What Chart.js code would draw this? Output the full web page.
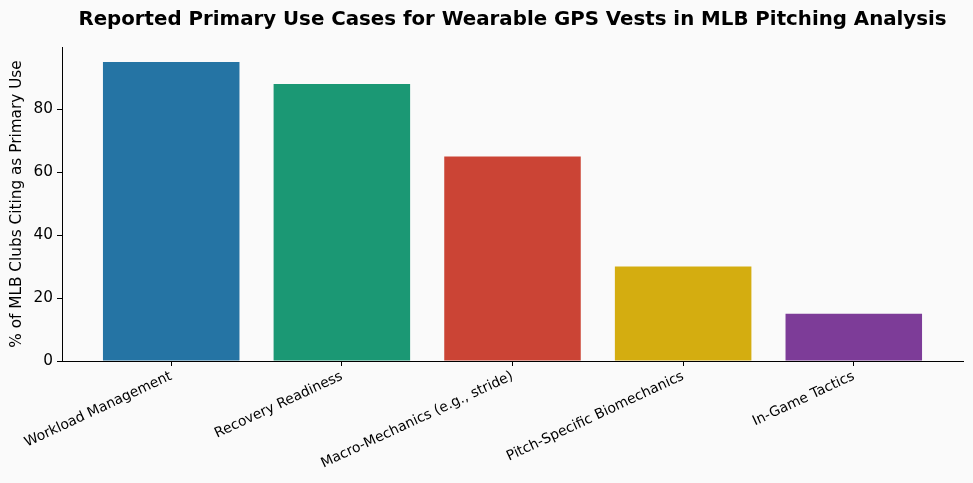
<!DOCTYPE html>
<html>
<head>
<meta charset="utf-8">
<script src="https://cdn.jsdelivr.net/npm/chart.js@4"></script>
<style>
  html, body { margin: 0; padding: 0; background: #fafafa; }
  #wrap { width: 973px; height: 483px; }
</style>
</head>
<body>
<div id="wrap"><canvas id="useChart"></canvas></div>
<script>
const titleText = "Reported Primary Use Cases for Wearable GPS Vests in MLB Pitching Analysis";
const categories = [
  "Workload Management",
  "Recovery Readiness",
  "Macro-Mechanics (e.g., stride)",
  "Pitch-Specific Biomechanics",
  "In-Game Tactics"
];
const percentCiting = [95, 88, 65, 30, 15];
const barColors = ["#2574a4", "#1b9874", "#cb4435", "#d4ad10", "#7d3c98"];
const yTicks = [0, 20, 40, 60, 80];

const font = "'DejaVu Sans', sans-serif";

// title centred over the plot area, like the original
const titlePlugin = {
  id: "plotTitle",
  afterDraw(chart) {
    const { ctx, chartArea } = chart;
    ctx.save();
    ctx.font = "bold 19.8px " + font;
    ctx.fillStyle = "#000";
    ctx.textAlign = "center";
    ctx.textBaseline = "middle";
    ctx.fillText(titleText, (chartArea.left + chartArea.right) / 2, 20);
    ctx.restore();
  }
};

const ctx = document.getElementById("useChart").getContext("2d");
new Chart(ctx, {
  type: "bar",
  data: {
    datasets: [{
      data: percentCiting.map((v, i) => ({ x: i, y: v })),
      backgroundColor: barColors,
      borderWidth: 0,
      barPercentage: 0.8,
      categoryPercentage: 1.0
    }]
  },
  options: {
    responsive: true,
    maintainAspectRatio: false,
    animation: false,
    layout: { padding: { top: 47, right: 10, left: 0, bottom: 0 } },
    plugins: {
      legend: { display: false },
      tooltip: { enabled: false }
    },
    scales: {
      x: {
        type: "linear",
        offset: false,
        min: -0.64,
        max: 4.64,
        afterBuildTicks: (scale) => {
          scale.ticks = categories.map((_, i) => ({ value: i }));
        },
        afterFit: (scale) => { scale.height = 122; },
        grid: { offset: false, drawOnChartArea: false, color: "#000", tickLength: 5, tickWidth: 1 },
        border: { display: true, color: "#000", width: 1 },
        ticks: {
          autoSkip: false,
          maxRotation: 25,
          minRotation: 25,
          padding: 2,
          color: "#000",
          font: { family: font, size: 13.9 },
          callback: (v) => categories[v]
        }
      },
      y: {
        min: 0,
        max: 99.75,
        afterBuildTicks: (scale) => {
          scale.ticks = yTicks.map((v) => ({ value: v }));
        },
        afterFit: (scale) => { scale.width = 62; },
        grid: { drawOnChartArea: false, color: "#000", tickLength: 5, tickWidth: 1 },
        border: { display: true, color: "#000", width: 1 },
        ticks: {
          padding: 4,
          color: "#000",
          font: { family: font, size: 15.3 }
        },
        title: {
          display: true,
          text: "% of MLB Clubs Citing as Primary Use",
          color: "#000",
          font: { family: font, size: 15.3 },
          padding: { top: 8, bottom: 0 }
        }
      }
    }
  },
  plugins: [titlePlugin]
});
</script>
</body>
</html>
